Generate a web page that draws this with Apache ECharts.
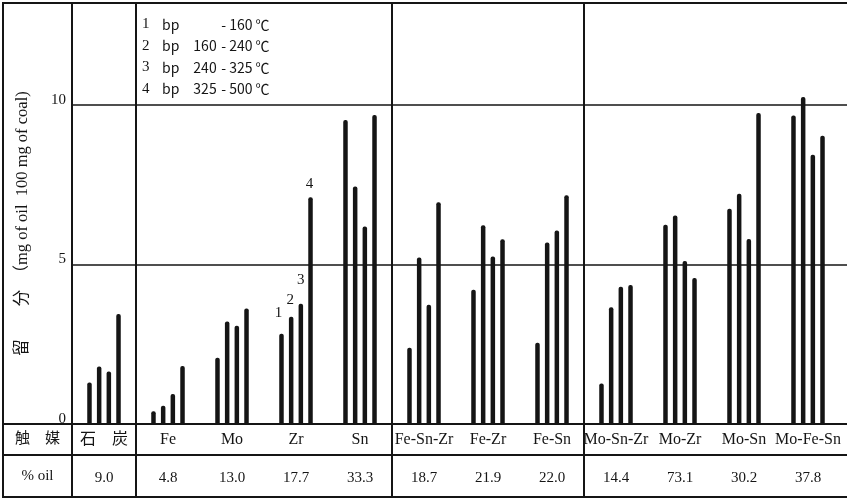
<!DOCTYPE html>
<html>
<head>
<meta charset="utf-8">
<script src="https://cdn.jsdelivr.net/npm/echarts@6/dist/echarts.min.js"></script>
<style>
html,body{margin:0;padding:0;background:#fff}
#main{width:847px;height:499px}
</style>
</head>
<body>
<div id="main"></div>
<script>
// 触媒（横轴分类）
var categories = ['石　炭', 'Fe', 'Mo', 'Zr', 'Sn', 'Fe-Sn-Zr', 'Fe-Zr', 'Fe-Sn', 'Mo-Sn-Zr', 'Mo-Zr', 'Mo-Sn', 'Mo-Fe-Sn'];
// % oil 一行
var oilPct = ['9.0', '4.8', '13.0', '17.7', '33.3', '18.7', '21.9', '22.0', '14.4', '73.1', '30.2', '37.8'];
// 各馏分 (mg of oil / 100 mg of coal)
var bp1 = [1.30, 0.40, 2.08, 2.83, 9.53, 2.39, 4.21, 2.55, 1.27, 6.25, 6.75, 9.67];
var bp2 = [1.80, 0.57, 3.21, 3.36, 7.45, 5.22, 6.23, 5.69, 3.66, 6.54, 7.22, 10.25];
var bp3 = [1.65, 0.94, 3.08, 3.77, 6.19, 3.74, 5.25, 6.07, 4.30, 5.11, 5.80, 8.44];
var bp4 = [3.45, 1.82, 3.62, 7.11, 9.69, 6.95, 5.79, 7.17, 4.36, 4.58, 9.75, 9.04];
// 刻度
var yTicks = [5, 10];
// 图例
var fractionNo = ['1', '2', '3', '4'];
var bpFrom = ['', '160', '240', '325'];
var bpTo = ['160', '240', '325', '500'];

(function () {
    var serif = "'Liberation Serif', 'Noto Sans CJK JP', serif";
    var gothic = "'Noto Sans CJK JP', 'DejaVu Sans', sans-serif";
    var ink = '#151515';

    var chart = echarts.init(document.getElementById('main'));

    // Zr 组上标注 1~4 的位置微调
    var zrIndex = 3;
    var zrLabelShift = [[-3, 13], [-1, 9], [0, 16], [-1, 6]];

    function makeSeries(k, values) {
        return {
            name: fractionNo[k],
            type: 'bar',
            barWidth: 4.5,
            barGap: '115%',
            itemStyle: {color: ink, borderRadius: [2, 2, 0, 0]},
            data: values.map(function (v, i) {
                if (i !== zrIndex) return v;
                return {
                    value: v,
                    label: {
                        show: true,
                        position: 'top',
                        formatter: fractionNo[k],
                        distance: zrLabelShift[k][1],
                        offset: [zrLabelShift[k][0], 0],
                        fontFamily: serif,
                        fontSize: 15,
                        color: ink
                    }
                };
            })
        };
    }

    var option = {
        animation: false,
        backgroundColor: '#fff',
        grid: {left: 72, right: 7, top: 3, bottom: 75, containLabel: false},
        legend: {
            orient: 'vertical',
            left: 132,
            top: 12,
            icon: 'rect',
            itemWidth: 0,
            itemHeight: 14,
            itemGap: 6.4,
            selectedMode: false,
            data: fractionNo,
            formatter: function (name) {
                var i = fractionNo.indexOf(name);
                return '{n|' + name + '}{b|bp}{lo|' + bpFrom[i] + '}{r| - ' + bpTo[i] + ' ℃}';
            },
            textStyle: {
                color: ink,
                rich: {
                    n: {fontFamily: serif, fontSize: 15, width: 20, color: ink},
                    b: {fontFamily: gothic, fontSize: 14, width: 30, color: ink},
                    lo: {fontFamily: gothic, fontSize: 14, width: 26, align: 'right', color: ink},
                    r: {fontFamily: gothic, fontSize: 14, color: ink}
                }
            }
        },
        xAxis: [{
            type: 'category',
            data: categories,
            axisLine: {show: true, lineStyle: {color: ink, width: 2}},
            axisTick: {show: false},
            axisLabel: {interval: 0, margin: 8, fontFamily: serif, fontSize: 16, color: ink, hideOverlap: false}
        }, {
            type: 'category',
            data: oilPct,
            position: 'bottom',
            offset: 31,
            axisLine: {show: false},
            axisTick: {show: false},
            axisLabel: {interval: 0, margin: 16, fontFamily: serif, fontSize: 15, color: ink}
        }],
        yAxis: {
            type: 'value',
            min: 0,
            max: 13.2,
            interval: 5,
            name: '留　　分　（mg of oil  100 mg of coal)',
            nameLocation: 'middle',
            nameRotate: 90,
            nameGap: 41,
            nameTextStyle: {fontFamily: serif, fontSize: 16.5, color: ink, padding: [0, 20, 0, 0]},
            axisLine: {show: true, lineStyle: {color: ink, width: 2}},
            axisTick: {show: false},
            axisLabel: {showMaxLabel: false, fontFamily: serif, fontSize: 15, color: ink, margin: 6, verticalAlign: 'bottom', lineHeight: 10},
            splitLine: {show: false}
        },
        series: [makeSeries(0, bp1), makeSeries(1, bp2), makeSeries(2, bp3), makeSeries(3, bp4)]
    };

    chart.setOption(option);

    // 表格线、分隔线、横向格线（位置取自坐标轴）
    var W = 847, frameTop = 3, frameBottom = 497, frameLeft = 3;
    var y0 = chart.convertToPixel({yAxisIndex: 0}, 0);
    var rowLine = y0 + 31;
    function cx(i) { return chart.convertToPixel({xAxisIndex: 0}, categories[i]); }
    var xLeft = cx(0) - (cx(1) - cx(0)) / 2;

    function seg(x1, y1, x2, y2, w) {
        return {type: 'line', silent: true, shape: {x1: x1, y1: y1, x2: x2, y2: y2}, style: {stroke: ink, lineWidth: w || 2}};
    }

    var g = [];
    g.push({type: 'rect', silent: true, shape: {x: frameLeft, y: frameTop, width: W + 10, height: frameBottom - frameTop}, style: {fill: 'none', stroke: ink, lineWidth: 2}});
    g.push(seg(xLeft, frameTop, xLeft, frameBottom));
    [0, 4, 7].forEach(function (i) {
        var x = (cx(i) + cx(i + 1)) / 2;
        g.push(seg(x, frameTop, x, frameBottom));
    });
    g.push(seg(frameLeft, y0, W, y0));
    g.push(seg(frameLeft, rowLine, W, rowLine));
    yTicks.forEach(function (v) {
        var y = Math.round(chart.convertToPixel({yAxisIndex: 0}, v));
        g.push(seg(xLeft, y, W, y, 1.6));
    });
    var midX = (frameLeft + xLeft) / 2;
    g.push({type: 'text', silent: true, style: {text: '触　媒', x: midX, y: (y0 + rowLine) / 2, align: 'center', verticalAlign: 'middle', font: '15px ' + serif, fill: ink}});
    g.push({type: 'text', silent: true, style: {text: '% oil', x: midX, y: (rowLine + frameBottom) / 2, align: 'center', verticalAlign: 'middle', font: '15px ' + serif, fill: ink}});

    chart.setOption({graphic: g});
})();
</script>
</body>
</html>
